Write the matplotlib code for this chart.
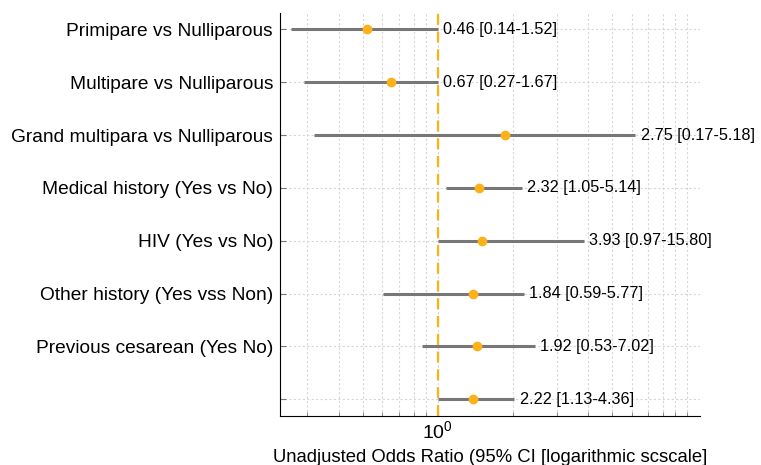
import numpy as np
import matplotlib
matplotlib.use("Agg")
import matplotlib.pyplot as plt
from matplotlib.ticker import LogLocator, NullFormatter

plt.rcParams['font.family'] = ['Liberation Sans', 'DejaVu Sans']

# rows, top to bottom
labels = ["Primipare vs Nulliparous",
          "Multipare vs Nulliparous",
          "Grand multipara vs Nulliparous",
          "Medical history (Yes vs No)",
          "HIV (Yes vs No)",
          "Other history (Yes vss Non)",
          "Previous cesarean (Yes No)",
          ""]

# positions as drawn in the chart (log scale)
point = [0.52, 0.65, 1.87, 1.46, 1.50, 1.39, 1.44, 1.39]
lower = [0.257, 0.291, 0.319, 1.08, 1.00, 0.606, 0.864, 1.00]
upper = [1.00, 1.00, 6.21, 2.18, 3.85, 2.21, 2.46, 2.03]

# annotations as printed
annot = ["0.46 [0.14-1.52]",
         "0.67 [0.27-1.67]",
         "2.75 [0.17-5.18]",
         "2.32 [1.05-5.14]",
         "3.93 [0.97-15.80]",
         "1.84 [0.59-5.77]",
         "1.92 [0.53-7.02]",
         "2.22 [1.13-4.36]"]

fig = plt.figure(figsize=(7.61, 4.65), dpi=100)
ax = fig.add_axes([0.368, 0.106, 0.552, 0.866])

y = np.arange(len(labels))
orange = '#FBB117'

ax.hlines(y, lower, upper, color='#777777', linewidth=2.2, zorder=3)
ax.plot(point, y, 'o', color=orange, markersize=6, zorder=4)
ax.axvline(1, color=orange, linestyle='--', linewidth=1.6, dashes=(5, 3), zorder=2)

for yi, hi, txt in zip(y, upper, annot):
    ax.text(hi * 1.05, yi, txt, va='center', ha='left', fontsize=11.7, zorder=5)

ax.set_xscale('log')
ax.set_xlim(0.233, 11.3)
ax.set_xticks([1])
ax.xaxis.set_minor_locator(LogLocator(base=10, subs=np.arange(1, 10)))
ax.xaxis.set_minor_formatter(NullFormatter())

ax.set_yticks(y)
ax.set_yticklabels(labels, fontsize=13.8)
ax.set_ylim(len(labels) - 1 + 0.31, -0.31)

ax.grid(True, which='both', axis='x', linestyle='--', color='#d6d6d6', linewidth=0.8, dashes=(2, 2))
ax.grid(True, which='major', axis='y', linestyle='--', color='#d6d6d6', linewidth=0.8, dashes=(2, 2))
ax.set_axisbelow(True)

for s in ['top', 'right']:
    ax.spines[s].set_visible(False)

ax.tick_params(axis='x', which='major', direction='in', color='#777777', labelsize=14)
ax.tick_params(axis='x', which='minor', direction='in', color='#777777', length=3)
ax.tick_params(axis='y', which='major', direction='in', color='#777777', length=4, pad=5)

ax.set_xlabel("Unadjusted Odds Ratio (95% CI [logarithmic scscale]", fontsize=13.3, labelpad=5)

plt.savefig("out.png", dpi=100)
